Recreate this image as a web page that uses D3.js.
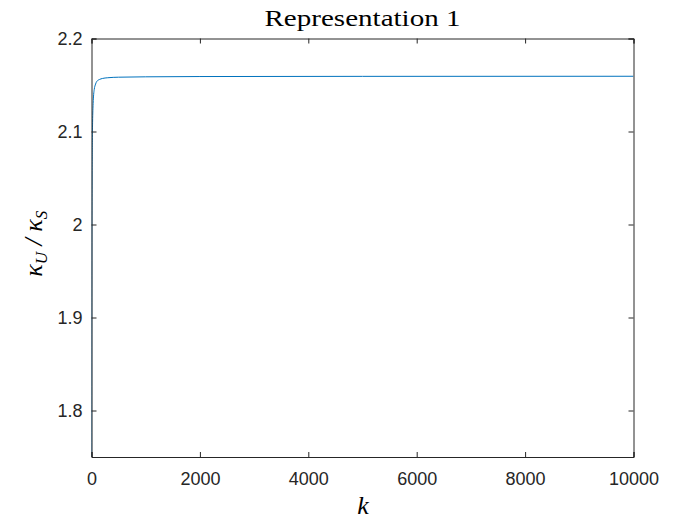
<!DOCTYPE html>
<html><head><meta charset="utf-8">
<script src="https://cdn.jsdelivr.net/npm/d3@7"></script>
<style>body{margin:0;background:#fff}</style>
</head><body>
<svg id="c" width="700" height="525"></svg>
<script>
const kValues = [1, 3, 5, 10, 15, 20, 30, 40, 50, 75, 100, 150, 200, 300, 500, 1000, 2000, 5000, 10000];
const ratioValues = [1.70, 1.86, 1.95, 2.05, 2.09, 2.11, 2.13, 2.140, 2.145, 2.151, 2.154, 2.156, 2.157, 2.1578, 2.1584, 2.1588, 2.1591, 2.1593, 2.1594];
const xTicks = [0, 2000, 4000, 6000, 8000, 10000];
const yTicks = [1.8, 1.9, 2.0, 2.1, 2.2];
const titleText = "Representation 1";

const svg = d3.select("#c");
const m = {l: 91.5, r: 633.5, t: 38.5, b: 457};
const x = d3.scaleLinear().domain([0, 10000]).range([m.l, m.r]);
const y = d3.scaleLinear().domain([1.75, 2.2]).range([m.b, m.t]);

svg.append("defs").append("clipPath").attr("id","clip")
  .append("rect").attr("x", m.l).attr("y", m.t).attr("width", m.r-m.l).attr("height", m.b-m.t);

const data = kValues.map((k,i)=>({k, v: ratioValues[i]}));
svg.append("path").datum(data)
  .attr("clip-path","url(#clip)")
  .attr("fill","none").attr("stroke","#0072bd").attr("stroke-width",1)
  .attr("d", d3.line().x(d=>x(d.k)).y(d=>y(d.v)).curve(d3.curveMonotoneX));

const fmtY = d => d === 2 ? "2" : d3.format(".1f")(d);
const tickFont = "Liberation Sans, Arial, sans-serif";
const tl = 5;
const axisColor = "#262626";

const bx = svg.append("g").attr("transform", `translate(0,${m.b})`)
  .call(d3.axisBottom(x).tickValues(xTicks).tickSize(-tl).tickPadding(15).tickFormat(d3.format("d")));
const tx = svg.append("g").attr("transform", `translate(0,${m.t})`)
  .call(d3.axisTop(x).tickValues(xTicks).tickSize(-tl).tickFormat(""));
const ly = svg.append("g").attr("transform", `translate(${m.l},0)`)
  .call(d3.axisLeft(y).tickValues(yTicks).tickSize(-tl).tickPadding(9).tickFormat(fmtY));
const ry = svg.append("g").attr("transform", `translate(${m.r},0)`)
  .call(d3.axisRight(y).tickValues(yTicks).tickSize(-tl).tickFormat(""));

[bx,tx,ly,ry].forEach(g=>{
  g.selectAll("path").attr("stroke", axisColor).attr("stroke-width",1);
  g.selectAll("line").attr("stroke", axisColor);
  g.selectAll("text").attr("fill", axisColor).style("font-family", tickFont).style("font-size","18px");
});

svg.append("text").attr("x", (m.l+m.r)/2).attr("y", 26)
  .attr("text-anchor","middle").style("font-family","Liberation Serif, DejaVu Serif, serif")
  .style("font-size","24px").attr("fill","#000")
  .attr("textLength", 196).attr("lengthAdjust","spacingAndGlyphs").text(titleText);

svg.append("text").attr("x", 363).attr("y", 514)
  .attr("text-anchor","middle").style("font-family","Liberation Serif, DejaVu Serif, serif")
  .style("font-style","italic").style("font-size","26px").attr("fill","#000").text("k");

const yl = svg.append("text").attr("transform", `translate(42,${(m.t+m.b)/2 - 4}) rotate(-90)`)
  .attr("text-anchor","middle").style("font-family","Liberation Serif, DejaVu Serif, serif")
  .style("font-style","italic").style("font-size","26px").attr("fill","#000");
yl.append("tspan").text("κ");
yl.append("tspan").attr("dy", 5).style("font-size","17px").text("U");
yl.append("tspan").attr("dy", -5).text(" / κ");
yl.append("tspan").attr("dy", 5).style("font-size","17px").text("S");
</script>
</body></html>
